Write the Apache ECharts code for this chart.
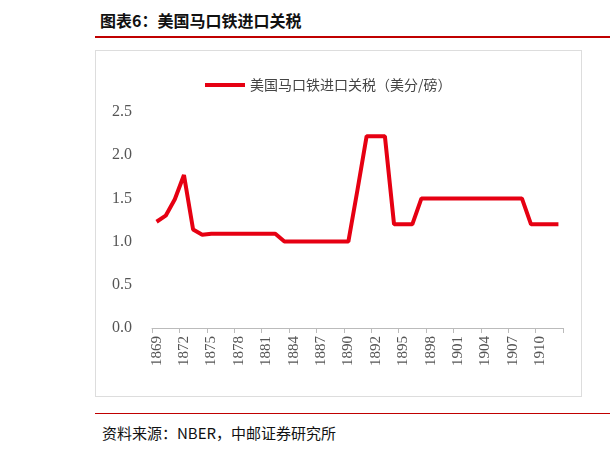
<!DOCTYPE html>
<html><head><meta charset="utf-8">
<script src="https://cdn.jsdelivr.net/npm/echarts@6/dist/echarts.min.js"></script>
<style>body{margin:0;background:#fff;width:610px;height:453px;position:relative;overflow:hidden;font-family:"Noto Sans CJK SC";}
#t{position:absolute;left:100px;top:8px;font-size:16px;font-weight:bold;color:#111;}
#l1{position:absolute;left:95px;right:0;top:36px;border-top:2px solid #c00000;}
#box{position:absolute;left:95px;top:50px;width:485px;height:345px;border:1px solid #ddd;}
#l2{position:absolute;left:95px;right:0;top:413px;border-top:1.5px solid #c00000;}
#s{position:absolute;left:102px;top:422px;font-size:15px;color:#111;}
#c{position:absolute;left:0;top:0;width:610px;height:453px;}</style></head>
<body><div id="t">图表6：美国马口铁进口关税</div><div id="l1"></div><div id="box"></div><div id="l2"></div>
<div id="s">资料来源：NBER，中邮证券研究所</div><div id="c"></div>
<script>
const years=[1869,1870,1871,1872,1873,1874,1875,1876,1877,1878,1879,1880,1881,1882,1883,1884,1885,1886,1887,1888,1889,1890,1890,1891,1892,1893,1894,1895,1896,1897,1898,1899,1900,1901,1902,1903,1904,1905,1906,1907,1908,1909,1910,1911,1912];
const tariff=[1.23,1.30,1.49,1.77,1.14,1.08,1.09,1.09,1.09,1.09,1.09,1.09,1.09,1.09,1.0,1.0,1.0,1.0,1.0,1.0,1.0,1.0,1.6,2.22,2.22,2.22,1.2,1.2,1.2,1.5,1.5,1.5,1.5,1.5,1.5,1.5,1.5,1.5,1.5,1.5,1.5,1.2,1.2,1.2,1.2];
const ch=echarts.init(document.getElementById('c'));
ch.setOption({
 animation:false,
 legend:{top:73,left:200,itemWidth:40,itemHeight:4,icon:'rect',textStyle:{fontFamily:'Noto Sans CJK SC',fontSize:14,color:'#444'}},
 grid:{left:152,right:47,top:112,bottom:125},
 xAxis:{type:'category',data:years,boundaryGap:true,
  axisLine:{lineStyle:{color:'#bbb'}},axisTick:{show:true,interval:2,alignWithLabel:false,lineStyle:{color:'#bbb'}},
  axisLabel:{interval:2,rotate:90,fontFamily:'Liberation Serif',fontSize:15,color:'#555'}},
 yAxis:{type:'value',min:0,max:2.5,interval:0.5,splitLine:{show:false},axisLine:{show:false},axisTick:{show:false},
  axisLabel:{formatter:v=>v.toFixed(1),fontFamily:'Liberation Serif',fontSize:16,color:'#555',margin:20}},
 series:[{name:'美国马口铁进口关税（美分/磅）',type:'line',data:tariff,showSymbol:false,lineStyle:{color:'#e60012',width:4},itemStyle:{color:'#e60012'}}]
});
</script></body></html>
